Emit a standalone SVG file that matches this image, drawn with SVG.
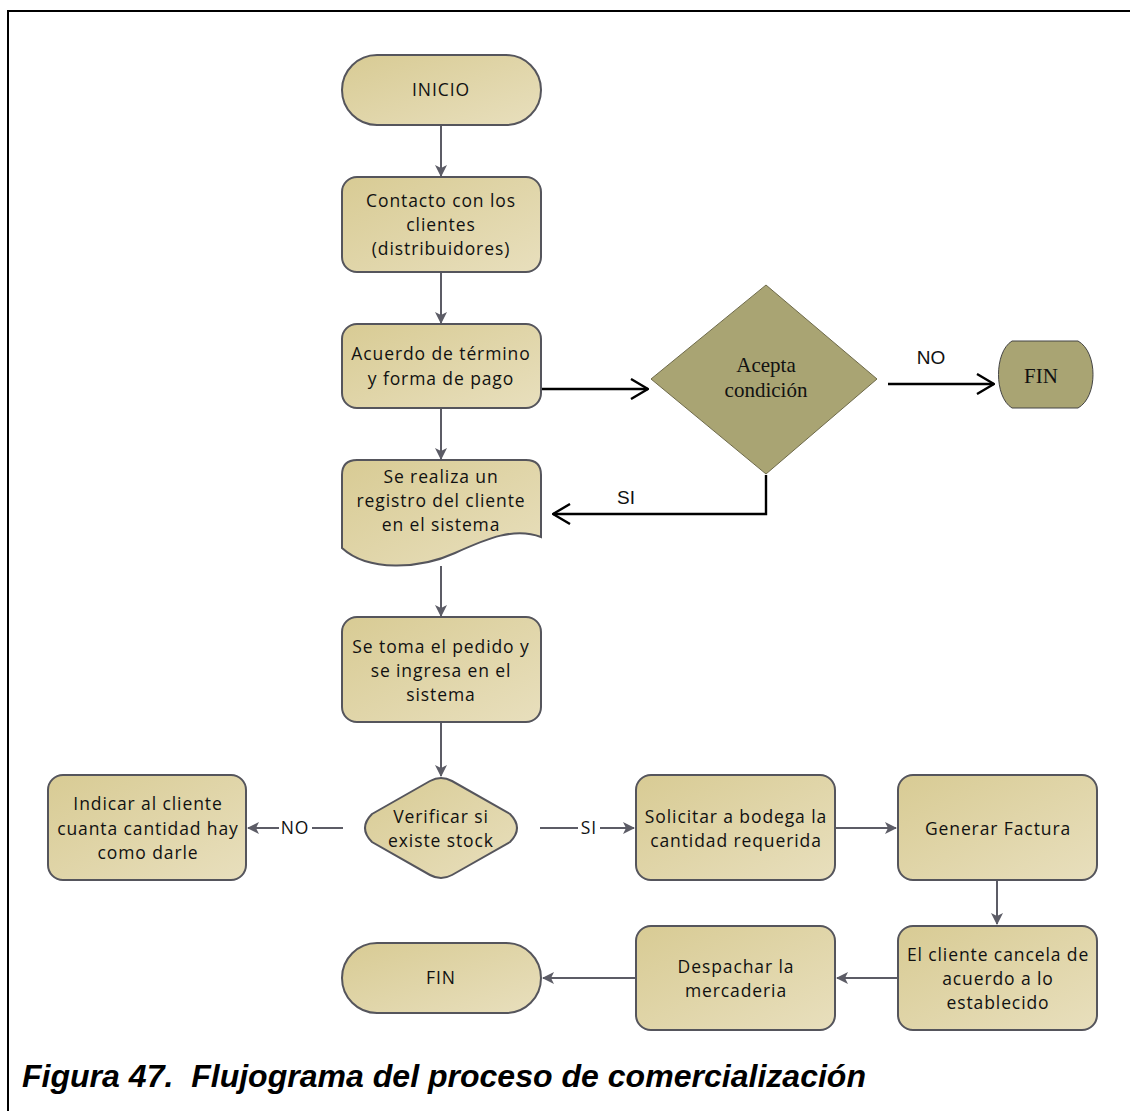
<svg xmlns="http://www.w3.org/2000/svg" width="1130" height="1111" viewBox="0 0 1130 1111">
  <defs>
    <linearGradient id="tan" x1="0" y1="0" x2="1" y2="1">
      <stop offset="0" stop-color="#d8cb94"/>
      <stop offset="1" stop-color="#e8dfbd"/>
    </linearGradient>
    <marker id="tri" viewBox="0 0 12 12" refX="11" refY="6" markerWidth="12" markerHeight="12" markerUnits="userSpaceOnUse" orient="auto">
      <path d="M0,0 L12,6 L0,12 L3,6 Z" fill="#5c5c66"/>
    </marker>
    <marker id="open" viewBox="0 0 20 22" refX="19" refY="11" markerWidth="20" markerHeight="22" markerUnits="userSpaceOnUse" orient="auto">
      <path d="M2,1 L19,11 L2,21" fill="none" stroke="#000" stroke-width="2.4"/>
    </marker>
  </defs>
  <style>
    .node { fill: url(#tan); stroke: #55555c; stroke-width: 2; }
    .dark { fill: #a9a473; stroke: #6e6a4a; stroke-width: 1; }
    .lbl { font-family: "Open Sans", "Noto Sans", sans-serif; font-size: 17.5px; letter-spacing: 0.9px; fill: #111; text-anchor: middle; }
    .serif { font-family: "Liberation Serif", serif; font-size: 21px; fill: #111; text-anchor: middle; }
    .tag { font-family: "Liberation Sans", Arial, sans-serif; font-size: 19px; fill: #111; text-anchor: middle; }
    .conn { fill: none; stroke: #5c5c66; stroke-width: 2; }
    .bold { fill: none; stroke: #000; stroke-width: 2.4; }
  </style>

  <rect width="1130" height="1111" fill="#fff"/>
  <!-- frame -->
  <path d="M8,1111 L8,11 L1130,11" fill="none" stroke="#000" stroke-width="2"/>

  <!-- connectors -->
  <g id="connectors">
    <path class="conn" d="M441,125 L441,176" marker-end="url(#tri)"/>
    <path class="conn" d="M441,272 L441,323" marker-end="url(#tri)"/>
    <path class="conn" d="M441,408 L441,459" marker-end="url(#tri)"/>
    <path class="conn" d="M441,566 L441,616" marker-end="url(#tri)"/>
    <path class="conn" d="M441,722 L441,776" marker-end="url(#tri)"/>
    <path class="conn" d="M343,828 L312,828"/>
    <path class="conn" d="M279,828 L248,828" marker-end="url(#tri)"/>
    <text class="lbl" x="295" y="834">NO</text>
    <path class="conn" d="M540,828 L578,828"/>
    <path class="conn" d="M600,828 L634,828" marker-end="url(#tri)"/>
    <text class="lbl" x="589" y="834">SI</text>
    <path class="conn" d="M835,828 L896,828" marker-end="url(#tri)"/>
    <path class="conn" d="M997,880 L997,924" marker-end="url(#tri)"/>
    <path class="conn" d="M898,978 L837,978" marker-end="url(#tri)"/>
    <path class="conn" d="M636,978 L543,978" marker-end="url(#tri)"/>

    <path class="bold" d="M541,389 L648,389" marker-end="url(#open)"/>
    <path class="bold" d="M888,384 L994,384" marker-end="url(#open)"/>
    <text class="tag" x="931" y="364">NO</text>
    <path class="bold" d="M766,475 L766,514 L553,514" marker-end="url(#open)"/>
    <text class="tag" x="626" y="504">SI</text>
  </g>

  <g id="inicio">
    <rect class="node" x="342" y="55" width="199" height="70" rx="35"/>
    <text class="lbl" x="441" y="96">INICIO</text>
  </g>

  <g id="contacto">
    <rect class="node" x="342" y="177" width="199" height="95" rx="15"/>
    <text class="lbl" x="441" y="207">Contacto con los</text>
    <text class="lbl" x="441" y="231">clientes</text>
    <text class="lbl" x="441" y="255">(distribuidores)</text>
  </g>

  <g id="acuerdo">
    <rect class="node" x="342" y="324" width="199" height="84" rx="15"/>
    <text class="lbl" x="441" y="360">Acuerdo de término</text>
    <text class="lbl" x="441" y="385">y forma de pago</text>
  </g>

  <g id="acepta">
    <path class="dark" d="M766,285 L877,379 L766,474 L651,379 Z"/>
    <text class="serif" x="766" y="372">Acepta</text>
    <text class="serif" x="766" y="397">condición</text>
  </g>

  <g id="fin-no">
    <path class="dark" d="M1012,341 L1078,341 C1098,352 1098,397 1078,408 L1012,408 C994,397 994,352 1012,341 Z" style="stroke:#444"/>
    <text class="serif" x="1041" y="383">FIN</text>
  </g>

  <g id="registro">
    <path class="node" d="M357,460 L526,460 Q541,460 541,475 L541,537 C515,527 488,538 455,553 C420,569 368,572 342,548 L342,475 Q342,460 357,460 Z"/>
    <text class="lbl" x="441" y="483">Se realiza un</text>
    <text class="lbl" x="441" y="507">registro del cliente</text>
    <text class="lbl" x="441" y="531">en el sistema</text>
  </g>

  <g id="pedido">
    <rect class="node" x="342" y="617" width="199" height="105" rx="15"/>
    <text class="lbl" x="441" y="653">Se toma el pedido y</text>
    <text class="lbl" x="441" y="677">se ingresa en el</text>
    <text class="lbl" x="441" y="701">sistema</text>
  </g>

  <g id="verificar">
    <path class="node" d="M372,814 L430,781 Q441,775 452,781 L510,814 Q524,828 510,842 L452,875 Q441,881 430,875 L372,842 Q358,828 372,814 Z"/>
    <text class="lbl" x="441" y="823">Verificar si</text>
    <text class="lbl" x="441" y="847">existe stock</text>
  </g>

  <g id="indicar">
    <rect class="node" x="48" y="775" width="198" height="105" rx="15"/>
    <text class="lbl" x="148" y="810">Indicar al cliente</text>
    <text class="lbl" x="148" y="835">cuanta cantidad hay</text>
    <text class="lbl" x="148" y="859">como darle</text>
  </g>

  <g id="solicitar">
    <rect class="node" x="636" y="775" width="199" height="105" rx="15"/>
    <text class="lbl" x="736" y="823">Solicitar a bodega la</text>
    <text class="lbl" x="736" y="847">cantidad requerida</text>
  </g>

  <g id="factura">
    <rect class="node" x="898" y="775" width="199" height="105" rx="15"/>
    <text class="lbl" x="998" y="835">Generar Factura</text>
  </g>

  <g id="cancela">
    <rect class="node" x="898" y="926" width="199" height="104" rx="15"/>
    <text class="lbl" x="998" y="961">El cliente cancela de</text>
    <text class="lbl" x="998" y="985">acuerdo a lo</text>
    <text class="lbl" x="998" y="1009">establecido</text>
  </g>

  <g id="despachar">
    <rect class="node" x="636" y="926" width="199" height="104" rx="15"/>
    <text class="lbl" x="736" y="973">Despachar la</text>
    <text class="lbl" x="736" y="997">mercaderia</text>
  </g>

  <g id="fin">
    <rect class="node" x="342" y="943" width="199" height="70" rx="35"/>
    <text class="lbl" x="441" y="984">FIN</text>
  </g>

  <text x="22" y="1087" xml:space="preserve" font-family="Liberation Sans, Arial, sans-serif" font-size="32" font-weight="bold" font-style="italic" fill="#000" textLength="844" lengthAdjust="spacingAndGlyphs">Figura 47.  Flujograma del proceso de comercialización</text>
</svg>
